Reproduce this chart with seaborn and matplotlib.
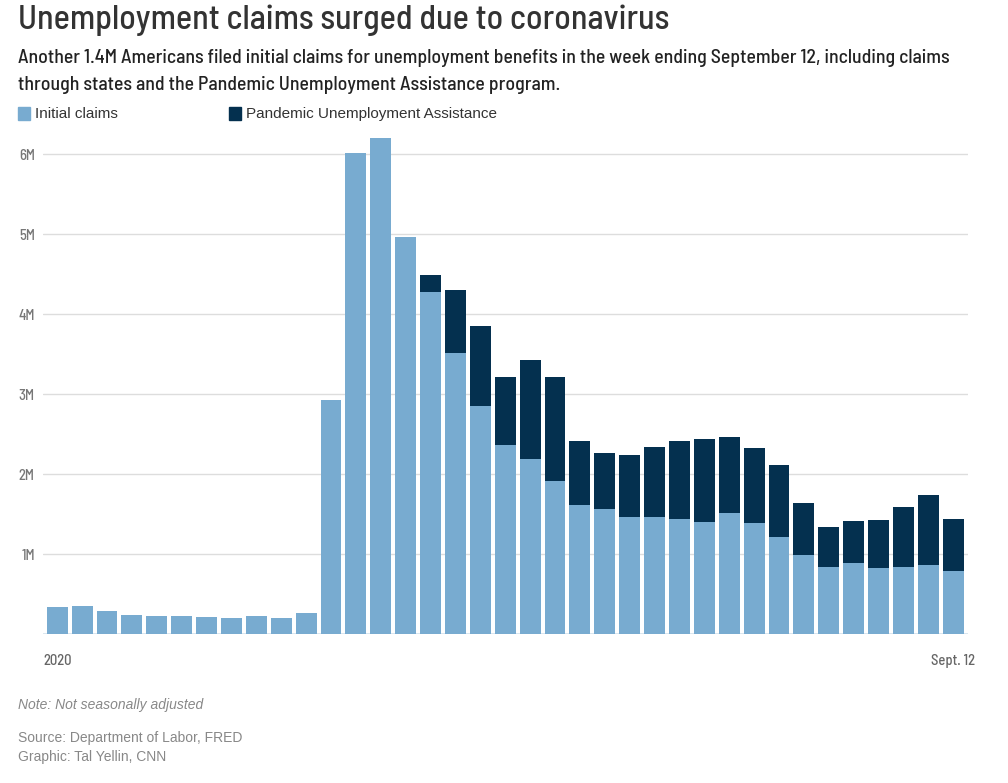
import matplotlib
matplotlib.use("Agg")
import matplotlib.pyplot as plt
from matplotlib.patches import Rectangle
import pandas as pd
import seaborn as sns

# weekly claims, millions (week ending Jan 4 ... Sept 12, 2020)
initial_claims = [0.34, 0.354, 0.29, 0.24, 0.225, 0.225, 0.217, 0.204, 0.225, 0.204,
                  0.266, 2.925, 6.01, 6.20, 4.96, 4.28, 3.52, 2.85, 2.36, 2.19,
                  1.92, 1.62, 1.57, 1.47, 1.46, 1.44, 1.40, 1.52, 1.39, 1.22,
                  0.995, 0.845, 0.89, 0.83, 0.845, 0.866, 0.795]
pua_claims = [0, 0, 0, 0, 0, 0, 0, 0, 0, 0,
              0, 0, 0, 0, 0, 0.21, 0.78, 1.00, 0.85, 1.24,
              1.30, 0.80, 0.69, 0.77, 0.885, 0.98, 1.045, 0.95, 0.94, 0.89,
              0.65, 0.495, 0.53, 0.60, 0.75, 0.874, 0.65]
weeks = pd.date_range("2020-01-04", "2020-09-12", freq="7D").strftime("%Y-%m-%d")
y_ticks = [1, 2, 3, 4, 5, 6]
y_tick_labels = ["1M", "2M", "3M", "4M", "5M", "6M"]

df = pd.DataFrame({"week": weeks, "initial": initial_claims, "pua": pua_claims})
df["total"] = df["initial"] + df["pua"]

cond = "Barlow Semi Condensed"
plain = "Liberation Sans"
light = "#78abd0"
dark = "#04304f"

sns.set_theme(style="white")
plt.rcParams["font.family"] = [plain, "DejaVu Sans"]

fig = plt.figure(figsize=(10.08, 7.83), dpi=100)
ax = fig.add_axes([0.0427, 0.190, 0.9173, 0.6386])

# dark bar = total, light bar on top of it = state initial claims
sns.barplot(data=df, x="week", y="total", color=dark, width=0.84, saturation=1,
            edgecolor="none", ax=ax)
sns.barplot(data=df, x="week", y="initial", color=light, width=0.84, saturation=1,
            edgecolor="none", ax=ax)

ax.set_ylim(0, 6.25)
ax.set_xlim(-0.57, len(df) - 1 + 0.58)
for t in y_ticks:
    ax.axhline(t, color="#dddddd", lw=1, zorder=0)
ax.axhline(0, color="#d3e2ec", lw=1.2, zorder=0)
ax.set_yticks(y_ticks)
ax.set_yticklabels(y_tick_labels, fontfamily=cond, fontweight=500, fontsize=10.5, color="#777777")
ax.set_xticks([0, len(df) - 1])
ax.set_xticklabels(["2020", "Sept. 12"], fontfamily=cond, fontweight=500, fontsize=10.5,
                   color="#666666")
ax.tick_params(axis="both", length=0)
ax.tick_params(axis="y", pad=6)
ax.tick_params(axis="x", pad=14)
ax.set_xlabel("")
ax.set_ylabel("")
sns.despine(ax=ax, left=True, bottom=True)

# header
fig.text(18 / 1008, 1 - 20 / 783, "Unemployment claims surged due to coronavirus",
         fontfamily=cond, fontweight=500, fontsize=24.5, color="#333333", va="center", ha="left")
fig.text(18 / 1008, 1 - 58 / 783,
         "Another 1.4M Americans filed initial claims for unemployment benefits in the week ending September 12, including claims",
         fontfamily=cond, fontweight=500, fontsize=14.2, color="#222222", va="center", ha="left")
fig.text(18 / 1008, 1 - 85 / 783,
         "through states and the Pandemic Unemployment Assistance program.",
         fontfamily=cond, fontweight=500, fontsize=14.2, color="#222222", va="center", ha="left")

# legend
for x0, col, label in [(18, light, "Initial claims"), (229, dark, "Pandemic Unemployment Assistance")]:
    fig.add_artist(Rectangle((x0 / 1008, 1 - 120 / 783), 12 / 1008, 13 / 783,
                             transform=fig.transFigure, color=col))
    fig.text((x0 + 17) / 1008, 1 - 114 / 783, label, fontsize=11, color="#333333",
             va="center", ha="left")

# footer
fig.text(18 / 1008, 1 - 705 / 783, "Note: Not seasonally adjusted",
         fontsize=10, style="italic", color="#888888", va="center", ha="left")
fig.text(18 / 1008, 1 - 738 / 783, "Source: Department of Labor, FRED",
         fontsize=10, color="#888888", va="center", ha="left")
fig.text(18 / 1008, 1 - 757 / 783, "Graphic: Tal Yellin, CNN",
         fontsize=10, color="#888888", va="center", ha="left")

fig.savefig("out.png", dpi=100)
